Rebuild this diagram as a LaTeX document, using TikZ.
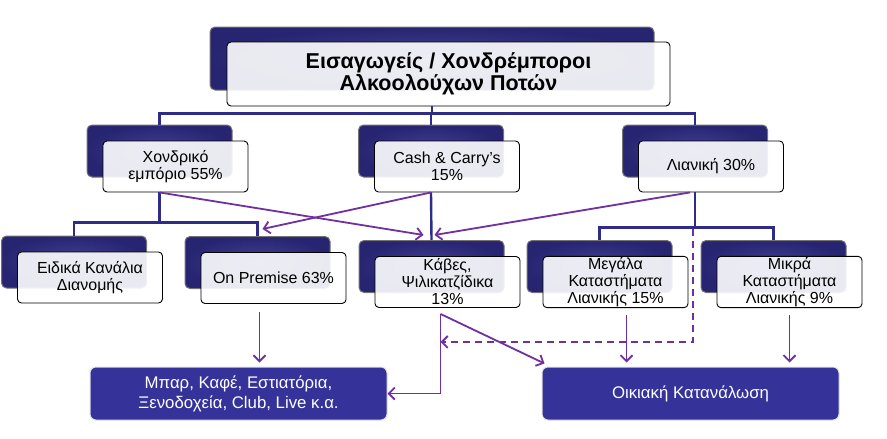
\documentclass[tikz,border=0pt]{standalone}
\usepackage{fontspec}
\setmainfont{Liberation Sans}
\usepackage{tikz}
\usetikzlibrary{calc}
\usetikzlibrary{arrows.meta}
\definecolor{navy}{HTML}{2E2C86}
\definecolor{boxblue}{HTML}{35339A}
\definecolor{flowpurple}{HTML}{7030A0}
\tikzset{
  backbox/.style={rounded corners=5pt, draw=black!55, line width=1pt, inner color=navy!90!white, outer color=navy!85!black, minimum width=145pt, minimum height=52pt, inner sep=0pt},
  frontbox/.style={rounded corners=4pt, draw=black, line width=0.9pt, fill=white, fill opacity=0.9, text opacity=1, minimum width=145pt, minimum height=51pt, align=center, inner sep=1pt, font=\fontsize{16}{17}\selectfont},
  endbox/.style={rounded corners=6pt, fill=boxblue, draw=black!12, line width=1pt, text=white, minimum width=297pt, minimum height=53pt, align=center, font=\fontsize{16.8}{20}\selectfont},
  bus/.style={draw=navy, line width=2.4pt},
  flow/.style={draw=flowpurple, line width=1.8pt, -{Straight Barb[length=6pt,width=12pt]}},
}
\newcommand{\orgunit}[4]{
  \node[backbox] (#1-b) at (#2,#3) {};
  \node[frontbox] (#1) at ($(#2,#3)+(16,15.5)$) {#4};}

\begin{document}
\begin{tikzpicture}[x=1pt,y=-1pt]
\useasboundingbox (0,0) rectangle (887,439);
% top box
\node[backbox, minimum width=444pt, minimum height=63pt] (top-b) at (432,58.5) {};
\node[frontbox, minimum width=443pt, minimum height=64pt, font=\bfseries\fontsize{21.5}{22}\selectfont] (top) at (448.5,74) {Εισαγωγείς / Χονδρέμποροι\\Αλκοολούχων Ποτών};
% row 2
\orgunit{whole}{159.5}{151}{Χονδρικό\\εμπόριο 55\%}
\orgunit{cash}{431}{151}{Cash \& Carry’s\\15\%}
\orgunit{retail}{695}{151}{Λιανική 30\%}
% row 3
\orgunit{special}{74}{262}{Ειδικά Κανάλια\\Διανομής}
\orgunit{prem}{257.5}{262.5}{On Premise 63\%}
\orgunit{kaves}{431.5}{266.5}{Κάβες,\\Ψιλικατζίδικα\\13\%}
\orgunit{large}{599.5}{266.5}{Μεγάλα\\Καταστήματα\\Λιανικής 15\%}
\orgunit{small}{773.5}{266.5}{Μικρά\\Καταστήματα\\Λιανικής 9\%}
% bottom boxes
\node[endbox] (bar) at (238.5,393.5) {Μπαρ, Καφέ, Εστιατόρια,\\Ξενοδοχεία, Club, Live κ.α.};
\node[endbox] (home) at (690.5,393.5) {Οικιακή Κατανάλωση};
% tree lines
\draw[bus] (top-b |- top.south) -- ++(0,7) -| (whole-b.north);
\draw[bus] (top-b |- top.south) -- ++(0,7) -| (cash-b.north);
\draw[bus] (top-b |- top.south) -- ++(0,7) -| (retail-b.north);
\draw[bus] (whole-b |- whole.south) -- ++(0,30) -| (special-b.north);
\draw[bus] (whole-b |- whole.south) -- ++(0,30) -| (prem-b.north);
\draw[bus] (cash-b |- cash.south) -- (kaves-b.north);
\draw[bus] (retail-b |- retail.south) -- ++(0,35) -| (large-b.north);
\draw[bus] (retail-b |- retail.south) -- ++(0,35) -| (small-b.north);
% flows between channels
\draw[flow] (whole-b |- whole.south) -- ($(kaves-b.north)+(-8,-5)$);
\draw[flow] (cash-b |- cash.south) -- ($(prem-b.north)+(5,-7)$);
\draw[flow] ($(retail-b |- retail.south)+(-5,0)$) -- ($(kaves-b.north)+(3,-5)$);
% flows to consumers
\coordinate (kv) at ($(kaves.south)+(-7,6)$);
\draw[flow] (kv) |- (bar.east);
\draw[flow] (kv) -- ($(home.north west)+(3,-3)$);
\draw[flow] ($(prem.south)+(-14,8)$) -- ($(prem.south |- bar.north)+(-14,-4)$);
\draw[flow] ($(large.south)+(11,7)$) -- ($(large.south |- home.north)+(11,-4)$);
\draw[flow] ($(small.south)+(0,7)$) -- ($(small.south |- home.north)+(0,-4)$);
\draw[flow, dash pattern=on 7pt off 5pt] ($(retail-b |- retail.south)+(-2,37)$) |- ($(kv)+(0,28)$);
\end{tikzpicture}
\end{document}
